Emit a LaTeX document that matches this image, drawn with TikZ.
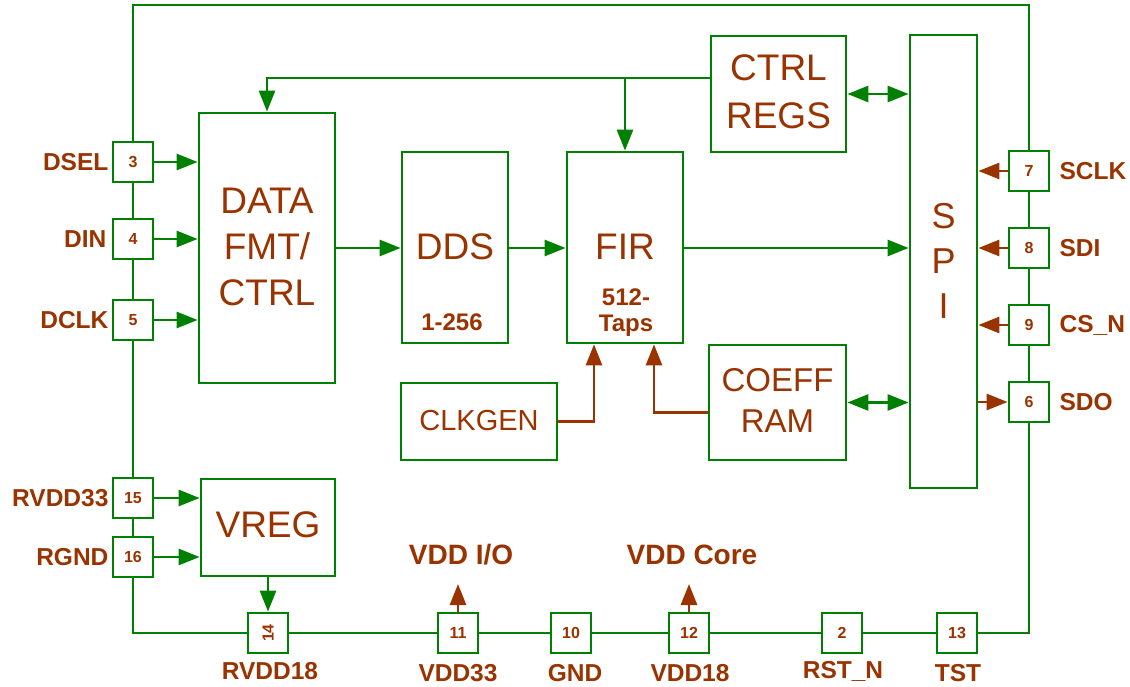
\documentclass[tikz,border=0pt]{standalone}
\usepackage{fontspec}
\setmainfont{Liberation Sans}
\usetikzlibrary{arrows.meta}
\definecolor{gr}{RGB}{0,128,0}
\definecolor{br}{RGB}{153,51,0}
\pgfdeclarelayer{bg}
\pgfsetlayers{bg,main}
\begin{document}
\begin{tikzpicture}[x=1pt,y=-1pt,
 blk/.style={draw=gr,line width=2.8pt,fill=white,inner sep=0pt},
 btxt/.style={text=br,align=center,inner sep=0pt},
 pin/.style={draw=gr,line width=2.8pt,fill=white,text=br,minimum width=40pt,minimum height=40pt,inner sep=0pt,font=\fontsize{16}{18}\selectfont\bfseries},
 lbl/.style={text=br,font=\fontsize{24.5}{28}\selectfont\bfseries,inner sep=0pt},
 vlbl/.style={text=br,font=\fontsize{28}{32}\selectfont\bfseries,inner sep=0pt},
 garr/.style={draw=gr,line width=2.8pt,-{Triangle[length=21pt,width=16pt]}},
 gdbl/.style={draw=gr,line width=2.8pt,{Triangle[length=21pt,width=16pt]}-{Triangle[length=21pt,width=16pt]}},
 barr/.style={draw=br,line width=2.8pt,-{Triangle[length=21pt,width=16pt]}},
 wire/.style={draw=gr,line width=2.8pt}]
\useasboundingbox (0,0) rectangle (1130,687);

% blocks
\node[blk,minimum width=136pt,minimum height=270pt] (data) at (267,248) {};
\node[btxt,font=\fontsize{37}{46}\selectfont] (datat) at (267,247) {DATA\\FMT/\\CTRL};
\node[blk,minimum width=106pt,minimum height=191pt] (dds) at (455,247.5) {};
\node[btxt,font=\fontsize{37}{46}\selectfont] (ddst) at (455,247) {DDS};
\node[btxt,font=\fontsize{24}{28}\selectfont\bfseries,anchor=base] (ddsn) at (452,330.5) {1-256};
\node[blk,minimum width=116pt,minimum height=191pt] (fir) at (625,247.5) {};
\node[btxt,font=\fontsize{37}{46}\selectfont] (firt) at (625,247) {FIR};
\node[btxt,font=\fontsize{24}{28}\selectfont\bfseries,anchor=base] (firn1) at (626,305) {512-};
\node[btxt,font=\fontsize{24}{28}\selectfont\bfseries,anchor=base] (firn2) at (626,331) {Taps};
\node[blk,minimum width=135pt,minimum height=116pt] (ctrl) at (778.5,94) {};
\node[btxt,font=\fontsize{37}{48}\selectfont] (ctrlt) at (778.5,92) {CTRL\\REGS};
\node[blk,minimum width=67pt,minimum height=453pt] (spi) at (943.5,261.5) {};
\node[btxt,font=\fontsize{36}{45}\selectfont] (spit) at (943.5,261) {S\\P\\I};
\node[blk,minimum width=137pt,minimum height=115pt] (coeff) at (777.5,402.5) {};
\node[btxt,font=\fontsize{33}{41}\selectfont] (coefft) at (777.5,400) {COEFF\\RAM};
\node[blk,minimum width=156pt,minimum height=77pt] (clk) at (479,421.5) {};
\node[btxt,font=\fontsize{29}{34}\selectfont] (clkt) at (479,421) {CLKGEN};
\node[blk,minimum width=134pt,minimum height=97pt] (vreg) at (268,527.5) {};
\node[btxt,font=\fontsize{37}{46}\selectfont] (vregt) at (268,525) {VREG};

% pins
\node[pin] (p3) at (133,162) {3};
\node[pin] (p4) at (133,239) {4};
\node[pin] (p5) at (133,320) {5};
\node[pin] (p15) at (133,498) {15};
\node[pin] (p16) at (133,557) {16};
\node[pin] (p14) at (268,633) {\rotatebox{90}{14}};
\node[pin] (p11) at (458,633) {11};
\node[pin] (p10) at (571,633) {10};
\node[pin] (p12) at (689,633) {12};
\node[pin] (p2) at (842,633) {2};
\node[pin] (p13) at (957,633) {13};
\node[pin] (p7) at (1029,171) {7};
\node[pin] (p8) at (1029,248) {8};
\node[pin] (p9) at (1029,325) {9};
\node[pin] (p6) at (1029,402) {6};

% pin labels
\node[lbl,anchor=east] (l3) at ([xshift=-3pt]p3.west) {DSEL};
\node[lbl,anchor=east] (l4) at ([xshift=-5pt]p4.west) {DIN};
\node[lbl,anchor=east] (l5) at ([xshift=-3pt]p5.west) {DCLK};
\node[lbl,anchor=east] (l15) at ([xshift=-3pt]p15.west) {RVDD33};
\node[lbl,anchor=east] (l16) at ([xshift=-3pt]p16.west) {RGND};
\node[lbl] (l14) at (270,671) {RVDD18};
\node[lbl] (l11) at (458,673) {VDD33};
\node[lbl] (l10) at (575,673) {GND};
\node[lbl] (l12) at (690,673) {VDD18};
\node[lbl] (l2) at (843,671) {RST\_N};
\node[lbl] (l13) at (958,673) {TST};
\node[lbl,anchor=west] (l7) at ([xshift=9pt]p7.east) {SCLK};
\node[lbl,anchor=west] (l8) at ([xshift=9pt]p8.east) {SDI};
\node[lbl,anchor=west] (l9) at ([xshift=9pt]p9.east) {CS\_N};
\node[lbl,anchor=west] (l6) at ([xshift=9pt]p6.east) {SDO};
\node[vlbl] (vio) at (461,555) {VDD I/O};
\node[vlbl] (vcore) at (692,555) {VDD Core};

\coordinate (cTL) at (133,5);
\coordinate (cTR) at (1029,5);
\coordinate (vioTip) at (458,584);
\coordinate (vcoreTip) at (689,584);

\begin{pgfonlayer}{bg}
\draw[wire] (p3) -- (cTL) -- (cTR) -- (p7);
\draw[wire] (p3) -- (p4) -- (p5) -- (p15) -- (p16) |- (p14) -- (p11) -- (p10) -- (p12) -- (p2) -- (p13) -| (p6) -- (p9) -- (p8) -- (p7);
\end{pgfonlayer}

% connectors
\draw[garr] (p3.east) -- (p3.east -| data.west);
\draw[garr] (p4.east) -- (p4.east -| data.west);
\draw[garr] (p5.east) -- (p5.east -| data.west);
\draw[garr] (p15.east) -- (p15.east -| vreg.west);
\draw[garr] (p16.east) -- (p16.east -| vreg.west);
\draw[garr] (vreg.south -| p14.north) -- (p14.north);
\draw[garr] (data.east) -- (data.east -| dds.west);
\draw[garr] (dds.east |- data.east) -- (data.east -| fir.west);
\draw[garr] (fir.east |- data.east) -- (data.east -| spi.west);
\coordinate (cl) at ([yshift=16pt]ctrl.west);
\draw[garr] (cl) -| (data.north);
\draw[garr] (cl -| fir.north) -- (fir.north);
\draw[gdbl] (ctrl.east) -- (ctrl.east -| spi.west);
\draw[gdbl] (coeff.east) -- (coeff.east -| spi.west);
\draw[barr] (clk.east) -| ([xshift=-31pt]fir.south);
\draw[barr] ([yshift=-10pt]coeff.west) -| ([xshift=29pt]fir.south);
\draw[barr] (p7.west) -- (p7.west -| spi.east);
\draw[barr] (p8.west) -- (p8.west -| spi.east);
\draw[barr] (p9.west) -- (p9.west -| spi.east);
\draw[barr] (p6.west -| spi.east) -- (p6.west);
\draw[barr] (p11.north) -- (vioTip);
\draw[barr] (p12.north) -- (vcoreTip);
\end{tikzpicture}
\end{document}
